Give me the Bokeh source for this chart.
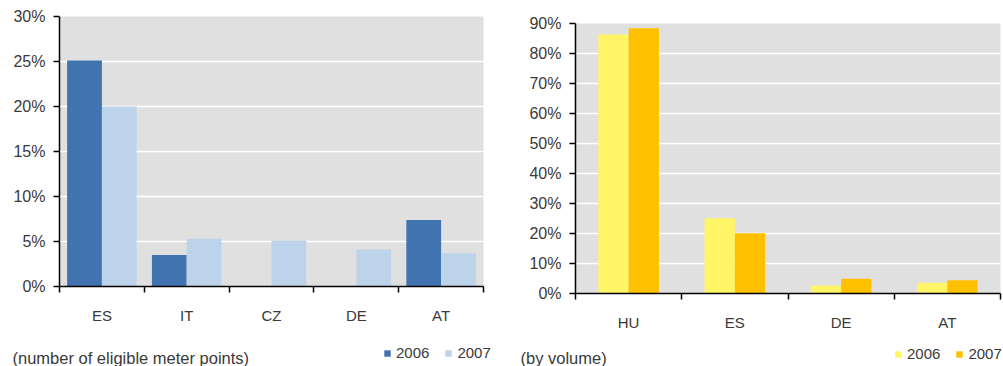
from bokeh.plotting import figure
from bokeh.models import (FixedTicker, NumeralTickFormatter, Legend, LegendItem,
                          Label, Range1d)
from bokeh.embed import file_html
from bokeh.resources import INLINE
import numpy as np

# Share of eligible meter points that switched supplier
meter_countries = ["ES", "IT", "CZ", "DE", "AT"]
meter_2006 = [0.251, 0.035, 0.0, 0.0, 0.074]
meter_2007 = [0.200, 0.053, 0.051, 0.041, 0.037]

# Share of volume that switched supplier
volume_countries = ["HU", "ES", "DE", "AT"]
volume_2006 = [0.863, 0.251, 0.027, 0.036]
volume_2007 = [0.884, 0.201, 0.049, 0.044]

years = ["2006", "2007"]

FONT = "Liberation Sans"
TEXT = "#3a3a3a"
CHART_H = 336
FOOT_H = 30


def chart(countries, v06, v07, colors, ymax, ystep, bar_w, fw, fh,
          left, right, top):
    n = len(countries)
    p = figure(frame_width=fw, frame_height=fh, output_backend="svg",
               toolbar_location=None, x_range=Range1d(0, n),
               y_range=Range1d(0, ymax),
               min_border_left=left, min_border_right=right,
               min_border_top=top, min_border_bottom=CHART_H - top - fh)
    p.background_fill_color = "#e0e0e0"
    p.border_fill_color = "white"
    p.outline_line_color = None

    centers = np.arange(n) + 0.5
    p.vbar(x=centers - bar_w / 2, top=v06, width=bar_w,
           fill_color=colors[0], line_color=None)
    p.vbar(x=centers + bar_w / 2, top=v07, width=bar_w,
           fill_color=colors[1], line_color=None)

    # category axis: labels at centres, ticks on the boundaries
    xa = p.xaxis[0]
    xa.ticker = FixedTicker(ticks=list(centers),
                            minor_ticks=list(range(n + 1)))
    xa.major_label_overrides = {float(c): lab for c, lab in zip(centers, countries)}
    xa.major_tick_out = 0
    xa.major_tick_in = 0
    xa.minor_tick_out = 6
    xa.minor_tick_in = 0
    xa.minor_tick_line_color = "black"
    xa.minor_tick_line_width = 1.5
    xa.axis_line_color = "black"
    xa.axis_line_width = 1.5
    xa.major_label_standoff = 14
    xa.major_label_text_font = FONT
    xa.major_label_text_font_size = "15px"
    xa.major_label_text_color = TEXT

    ya = p.yaxis[0]
    ya.ticker = FixedTicker(ticks=list(np.round(np.arange(0, ymax + 1e-9, ystep), 4)))
    ya.formatter = NumeralTickFormatter(format="0%")
    ya.major_tick_out = 6
    ya.major_tick_in = 0
    ya.minor_tick_out = 0
    ya.minor_tick_in = 0
    ya.major_tick_line_color = "black"
    ya.major_tick_line_width = 1.5
    ya.axis_line_color = "black"
    ya.axis_line_width = 1.5
    ya.major_label_standoff = 8
    ya.major_label_text_font = FONT
    ya.major_label_text_font_size = "16px"
    ya.major_label_text_color = TEXT

    p.xgrid.grid_line_color = None
    p.ygrid.grid_line_color = "white"
    p.ygrid.grid_line_width = 1.5
    return p


def footer(width, colors, note, note_xy, legend_xy):
    """Strip under a chart holding its note and its year legend."""
    f = figure(width=width, height=FOOT_H, output_backend="svg",
               toolbar_location=None, x_axis_type=None, y_axis_type=None,
               x_range=Range1d(0, 1), y_range=Range1d(0, 1),
               min_border=0, min_border_left=0, min_border_right=0,
               min_border_top=0, min_border_bottom=0)
    f.outline_line_color = None
    f.background_fill_color = "white"
    f.border_fill_color = "white"
    f.grid.visible = False

    # zero-height key bars: they only lend their colour to the legend swatches
    keys = [f.vbar(x=[0.5], top=[0], bottom=[0], width=0, fill_color=c, line_color=None)
            for c in colors]

    f.add_layout(Label(x=note_xy[0], y=note_xy[1], x_units="screen", y_units="screen",
                       text=note, text_font=FONT, text_font_size="16.5px",
                       text_color=TEXT, text_baseline="middle"))

    legend = Legend(items=[LegendItem(label=y, renderers=[r])
                           for y, r in zip(years, keys)],
                    orientation="horizontal", location=legend_xy,
                    glyph_width=8, glyph_height=8, label_standoff=5,
                    spacing=15, padding=0, margin=0,
                    border_line_color=None, background_fill_alpha=0,
                    label_text_font=FONT, label_text_font_size="15px",
                    label_text_color=TEXT, label_height=16)
    f.add_layout(legend)
    return f


meter_colors = ["#4174ae", "#bdd3e9"]
volume_colors = ["#fff566", "#ffc000"]

left_chart = chart(meter_countries, meter_2006, meter_2007, meter_colors,
                   0.30, 0.05, 0.41, 424, 270, 59, 20, 16)
right_chart = chart(volume_countries, volume_2006, volume_2007, volume_colors,
                    0.90, 0.10, 0.285, 425, 270, 72, 3, 23)
left_foot = footer(503, meter_colors, "(number of eligible meter points)",
                   (12, 9), (383, 5))
right_foot = footer(500, volume_colors, "(by volume)", (17, 9), (391, 4))

# charts on the first row, their notes and legends on the second
page = """{% block postamble %}<style>html, body { margin: 0; overflow: hidden; }</style>{% endblock %}
{% block inner_body %}<div style="display:grid;grid-template-columns:503px 500px;align-items:start;">{{ super() }}</div>{% endblock %}
"""
open("out.html", "w").write(
    file_html([left_chart, right_chart, left_foot, right_foot], INLINE, template=page))
